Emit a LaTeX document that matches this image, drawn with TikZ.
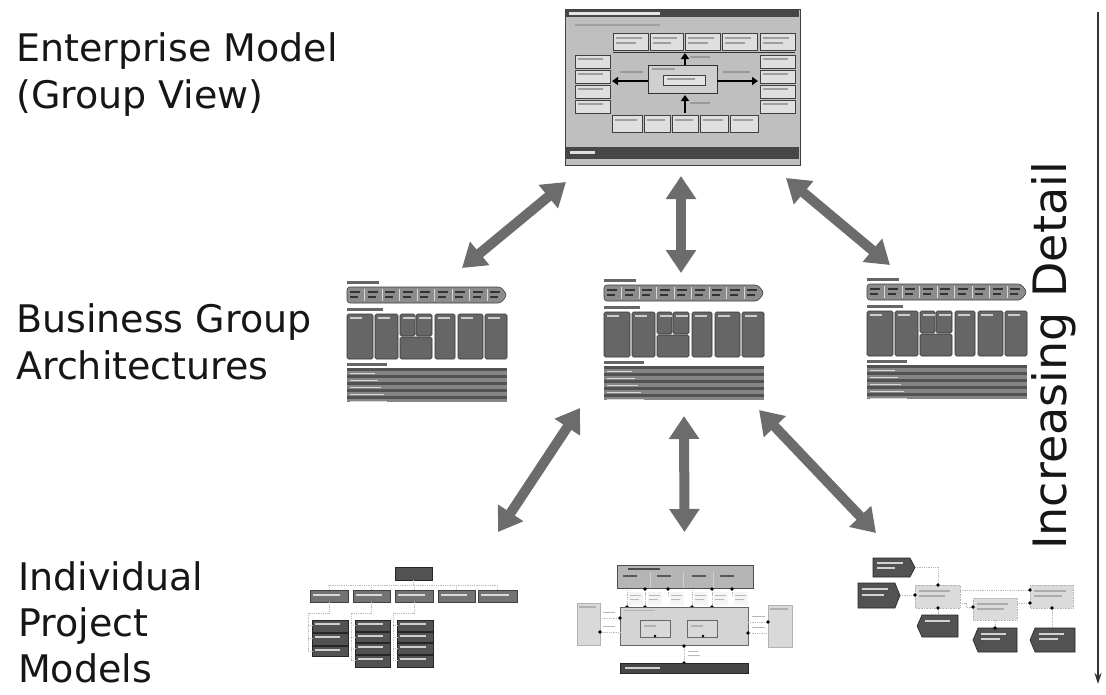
\documentclass[tikz,border=0pt]{standalone}
\usepackage{fontspec}
\setmainfont{DejaVu Sans}
\usetikzlibrary{arrows.meta,calc}
\definecolor{arrowgray}{RGB}{108,108,108}
\definecolor{ink}{RGB}{22,22,22}

% one business-group architecture sheet, drawn at the origin (160 x 122)
\newcommand{\bizsheet}{%
  \fill[black!60] (0,1) rectangle (32,4);
  \filldraw[fill=black!45, draw=black!75, line width=.6pt, rounded corners=3pt]
    (0,7) -- (154,7) -- (160,15) -- (154,23) -- (0,23) -- cycle;
  \foreach \i in {1,...,8} \draw[gray!30, line width=.6pt] (\i*17.5,9) -- (\i*17.5,21);
  \foreach \i in {0,...,8} {
    \fill[black!80] (\i*17.5+3,11) rectangle (\i*17.5+13,12.6);
    \fill[black!80] (\i*17.5+3,16) rectangle (\i*17.5+11,17.6);}
  \fill[black!60] (0,28) rectangle (36,31);
  \foreach \a/\b in {0/26,28/51,88/108,111/136,138/160}
    \filldraw[fill=black!60, draw=black!80, line width=.6pt, rounded corners=1.5pt] (\a,34) rectangle (\b,79);
  \filldraw[fill=black!60, draw=black!80, line width=.6pt, rounded corners=1.5pt] (53,34) rectangle (68,56);
  \filldraw[fill=black!60, draw=black!80, line width=.6pt, rounded corners=1.5pt] (69,34) rectangle (85,56);
  \filldraw[fill=black!60, draw=black!80, line width=.6pt, rounded corners=1.5pt] (53,57) rectangle (85,79);
  \foreach \a in {3,31,56,72,91,114,141} \fill[gray!40] (\a,37) rectangle (\a+12,38.5);
  \fill[black!60] (0,83) rectangle (40,86);
  \fill[black!48] (0,88) rectangle (160,122);
  \foreach \k in {0,...,4} {
    \fill[black!68] (0,88+\k*7) rectangle (160,90.5+\k*7);
    \fill[gray!30] (3,92.5+\k*7) rectangle (28+\k*3,93.8+\k*7);}
}

\begin{document}
\begin{tikzpicture}[x=1pt,y=-1pt,
  lbl/.style={anchor=base west, inner sep=0, font=\fontsize{38}{46}\selectfont, text=ink},
  frame/.style={inner sep=0, outer sep=0, anchor=north west},
  dbl/.style={draw=arrowgray, line width=10pt,
    {Triangle[width=29pt,length=23pt]}-{Triangle[width=29pt,length=23pt]}},
  lightbox/.style={fill=gray!25, draw=black!75, line width=.6pt},
  darkbox/.style={fill=black!68, draw=black!85, line width=.6pt},
  midbox/.style={fill=black!55, draw=black!75, line width=.6pt},
  blackarrow/.style={draw=black, line width=2.6pt, -{Triangle[width=8pt,length=6pt]}},
  link/.style={draw=gray!55, densely dotted, line width=.8pt},
  pin/.style={fill=black},
  ]
\fill[white] (0,0) rectangle (1106,694);
\useasboundingbox (0,0) rectangle (1106,694);

% ---------- level labels ----------
\node[lbl] (ent1) at (16,61)  {Enterprise Model};
\node[lbl] (ent2) at (16,108) {(Group View)};
\node[lbl] (biz1) at (16,332) {Business Group};
\node[lbl] (biz2) at (16,379) {Architectures};
\node[lbl] (prj1) at (18,590) {Individual};
\node[lbl] (prj2) at (18,636) {Project};
\node[lbl] (prj3) at (18,682) {Models};

% ---------- increasing detail ----------
\node[rotate=90, anchor=base, inner sep=0, font=\fontsize{46}{52}\selectfont, text=ink]
  (detail) at (1066,356) {Increasing Detail};
\coordinate (detTop) at (1098,12);
\coordinate (detBot) at (1098,684);
\draw[gray!40!black, line width=2pt, -{Stealth[length=11pt,width=7pt]}] (detTop) -- (detBot);

% ---------- frames of the views ----------
\node[frame, minimum width=235pt, minimum height=156pt] (ent) at (565,9) {};
\node[frame, minimum width=160pt, minimum height=122pt] (bizL) at (347,280) {};
\node[frame, minimum width=160pt, minimum height=122pt] (bizM) at (604,278) {};
\node[frame, minimum width=160pt, minimum height=122pt] (bizR) at (867,277) {};
\node[frame, minimum width=215pt, minimum height=103pt] (prjL) at (305,565) {};
\node[frame, minimum width=215pt, minimum height=108pt] (prjM) at (577,565) {};
\node[frame, minimum width=217pt, minimum height=94pt]  (prjR) at (858,558) {};

% ---------- enterprise slide ----------
\begin{scope}[shift={(ent.north west)}]
  \filldraw[fill=gray!50, draw=black!75, line width=1pt] (0,0) rectangle (235,156);
  \fill[black!72] (1,1) rectangle (234,8);
  \fill[gray!20] (4,3) rectangle (95,5.5);
  \fill[gray!75] (10,15) rectangle (95,17);
  \foreach \a/\b in {48/83,85/118,120/155,157/192,195/230}
    {\filldraw[lightbox] (\a,24) rectangle (\b,41);
     \fill[gray!75] (\a+3,28) rectangle (\b-6,30);
     \fill[gray!75] (\a+3,33) rectangle (\b-12,35);}
  \draw[black!80, line width=1pt] (48,43) -- (230,43);
  \foreach \y in {46,61,76,91}
    {\filldraw[lightbox] (10,\y) rectangle (45,\y+13);
     \fill[gray!75] (13,\y+3) rectangle (38,\y+5);
     \filldraw[lightbox] (195,\y) rectangle (230,\y+13);
     \fill[gray!75] (198,\y+3) rectangle (223,\y+5);}
  \filldraw[fill=gray!38, draw=black!80, line width=.8pt] (83,56) rectangle (152,84);
  \fill[gray!75] (87,59) rectangle (110,61);
  \filldraw[fill=gray!22, draw=black!75, line width=.8pt] (98,66) rectangle (140,76);
  \fill[gray!75] (102,69) rectangle (130,71);
  \draw[blackarrow] (120,56) -- (120,44);
  \draw[blackarrow] (120,104) -- (120,86);
  \draw[blackarrow] (83,72) -- (47,72);
  \draw[blackarrow] (152,72) -- (193,72);
  \fill[gray!80] (125,47) rectangle (145,49);
  \fill[gray!80] (125,93) rectangle (145,95);
  \fill[gray!80] (55,62) rectangle (78,64);
  \fill[gray!80] (158,62) rectangle (185,64);
  \foreach \a/\b in {47/77,79/105,107/133,135/163,165/193}
    {\filldraw[lightbox] (\a,106) rectangle (\b,123);
     \fill[gray!75] (\a+3,110) rectangle (\b-5,112);}
  \fill[black!72] (1,138) rectangle (234,150);
  \fill[gray!25] (5,142) rectangle (30,144.5);
\end{scope}

% ---------- business group sheets ----------
\begin{scope}[shift={(bizL.north west)}] \bizsheet \end{scope}
\begin{scope}[shift={(bizM.north west)}] \bizsheet \end{scope}
\begin{scope}[shift={(bizR.north west)}] \bizsheet \end{scope}

% ---------- project model: organisation tree ----------
\filldraw[darkbox] (395,567) rectangle (432,580);
\draw[link] (413,580) -- (413,585) (328,585) -- (498,585);
\foreach \a/\b in {310/348,353/390,395/433,438/475,478/517}
  {\draw[link] ({(\a+\b)/2},585) -- ({(\a+\b)/2},590);
   \filldraw[midbox] (\a,590) rectangle (\b,602);
   \fill[gray!30] (\a+3,594) rectangle (\b-8,595.5);}
\draw[link] (329,602) -- (329,613) -- (308,613) -- (308,651);
\draw[link] (371,602) -- (371,613) -- (351,613) -- (351,661);
\draw[link] (414,602) -- (414,613) -- (393,613) -- (393,661);
\foreach \y/\h in {620/12,633/12,646/10}
  {\filldraw[darkbox] (312,\y) rectangle (348,\y+\h); \draw[link] (308,\y+5) -- (312,\y+5);
   \fill[gray!38] (315,\y+3) rectangle (340,\y+4.5);}
\foreach \y/\h in {620/11,632/10,643/11,655/12}
  {\filldraw[darkbox] (355,\y) rectangle (390,\y+\h); \draw[link] (351,\y+5) -- (355,\y+5);
   \fill[gray!38] (358,\y+3) rectangle (383,\y+4.5);
   \filldraw[darkbox] (397,\y) rectangle (433,\y+\h); \draw[link] (393,\y+5) -- (397,\y+5);
   \fill[gray!38] (400,\y+3) rectangle (426,\y+4.5);}

% ---------- project model: component view ----------
\filldraw[fill=gray!58, draw=black!70, line width=.6pt] (617,565) rectangle (753,588);
\fill[black!70] (628,567.5) rectangle (660,569.5);
\foreach \x in {650,683,713} \draw[gray!35, line width=.6pt] (\x,572) -- (\x,588);
\foreach \x in {623,657,692,720} \fill[black!65] (\x,575) rectangle (\x+14,577);
\foreach \x in {627,645,692,712} \draw[link] (\x,590) -- (\x,607);
\foreach \x in {645,668,712,732} \draw[link] (\x,588) -- (\x,596);
\foreach \a in {629,648,670,694,714,734}
  {\fill[gray!8] (\a,592) rectangle (\a+14,605);
   \fill[gray!55] (\a+1,595) rectangle (\a+12,596.3);
   \fill[gray!55] (\a+1,599) rectangle (\a+10,600.3);}
\foreach \x in {645,668,712,732} \fill[pin] (\x,589) circle (1.8pt);
\foreach \x in {627,645,692,712} \fill[pin] (\x,607) circle (1.8pt);
\filldraw[fill=gray!34, draw=black!60, line width=.6pt] (620,607) rectangle (748,645);
\fill[gray!60] (624,609.5) rectangle (655,611);
\filldraw[fill=gray!30, draw=black!60, line width=.5pt] (640,620) rectangle (670,637);
\filldraw[fill=gray!30, draw=black!60, line width=.5pt] (687,620) rectangle (717,637);
\fill[gray!60] (644,625) rectangle (656,626.5);
\fill[gray!60] (691,625) rectangle (703,626.5);
\fill[pin] (655,636) circle (1.3pt);
\fill[pin] (703,636) circle (1.3pt);
\filldraw[fill=gray!30, draw=gray!60, line width=.6pt] (577,603) rectangle (600,645);
\filldraw[fill=gray!30, draw=gray!60, line width=.6pt] (768,605) rectangle (792,647);
\fill[gray!60] (579,606) rectangle (596,607.5);
\fill[gray!60] (770,608) rectangle (788,609.5);
\draw[link] (600,618) -- (620,618) (600,632) -- (620,632);
\draw[link] (748,622) -- (768,622) (748,633) -- (768,633);
\fill[gray!55] (603,612) rectangle (615,613.3);
\fill[gray!55] (603,626) rectangle (615,627.3);
\fill[gray!55] (752,616) rectangle (765,617.3);
\fill[gray!55] (752,627) rectangle (765,628.3);
\fill[pin] (620,618) circle (1.8pt);
\fill[pin] (600,632) circle (1.8pt);
\fill[pin] (768,622) circle (1.8pt);
\fill[pin] (748,633) circle (1.8pt);
\draw[link] (684,645) -- (684,663);
\fill[gray!55] (688,651) rectangle (698,652.3);
\fill[gray!55] (688,655) rectangle (700,656.3);
\fill[pin] (684,646) circle (1.8pt);
\fill[pin] (684,663) circle (1.8pt);
\filldraw[fill=black!72, draw=black!85, line width=.6pt] (620,663) rectangle (748,673);
\fill[gray!35] (625,667) rectangle (660,668.5);

% ---------- project model: process flow ----------
\draw[link] (915,567) -- (938,567) -- (938,585);
\draw[link] (900,595) -- (915,595);
\draw[link] (960,590) -- (1030,590);
\draw[link] (960,603) -- (966,603) -- (966,607) -- (973,607);
\draw[link] (1017,603) -- (1030,603);
\draw[link] (938,608) -- (938,615);
\draw[link] (995,620) -- (995,628);
\draw[link] (1052,608) -- (1052,628);
\filldraw[darkbox] (873,558) -- (910,558) -- (915,567.5) -- (910,577) -- (873,577) -- cycle;
\filldraw[darkbox] (858,583) -- (895,583) -- (900,595.5) -- (895,608) -- (858,608) -- cycle;
\filldraw[darkbox] (922,615) -- (958,615) -- (958,637) -- (922,637) -- (917,626) -- cycle;
\filldraw[darkbox] (978,628) -- (1017,628) -- (1017,652) -- (978,652) -- (973,640) -- cycle;
\filldraw[darkbox] (1035,628) -- (1075,628) -- (1075,652) -- (1035,652) -- (1030,640) -- cycle;
\fill[gray!35] (877,562) rectangle (903,563.5);
\fill[gray!35] (877,567) rectangle (895,568.5);
\fill[gray!35] (862,588) rectangle (888,589.5);
\fill[gray!35] (862,594) rectangle (884,595.5);
\fill[gray!35] (925,620) rectangle (950,621.5);
\fill[gray!35] (981,633) rectangle (1006,634.5);
\fill[gray!35] (981,638) rectangle (1000,639.5);
\fill[gray!35] (1039,633) rectangle (1064,634.5);
\fill[gray!35] (1039,638) rectangle (1058,639.5);
\filldraw[fill=gray!28, draw=gray!60, densely dotted, line width=.6pt] (915,585) rectangle (960,608);
\filldraw[fill=gray!28, draw=gray!60, densely dotted, line width=.6pt] (973,598) rectangle (1017,620);
\filldraw[fill=gray!28, draw=gray!60, densely dotted, line width=.6pt] (1030,585) rectangle (1073,608);
\fill[gray!65] (919,590) rectangle (950,591.5);
\fill[gray!65] (919,595) rectangle (945,596.5);
\fill[gray!65] (977,603) rectangle (1008,604.5);
\fill[gray!65] (977,608) rectangle (1004,609.5);
\fill[gray!65] (1034,590) rectangle (1066,591.5);
\fill[gray!65] (1034,595) rectangle (1062,596.5);
\foreach \p in {(938,585),(915,595),(1030,590),(973,607),(1030,603),(938,608),(995,628),(1052,608)}
  \fill[pin] \p circle (1.8pt);

% ---------- links between the levels ----------
\draw[dbl] ($(ent.south west)+(1,17)$)   -- ($(bizL.north east)+(-45,-12)$);
\draw[dbl] ($(ent.south)+(-1.5,11)$)     -- ($(bizM.north)+(-3,-5)$);
\draw[dbl] ($(ent.south east)+(-14,13)$) -- ($(bizR.north west)+(23,-12)$);
\draw[dbl] ($(bizM.south west)+(-24,8)$) -- ($(prjL.north east)+(-22,-33)$);
\draw[dbl] ($(bizM.south)+(0,16)$)       -- ($(prjM.north)+(0,-33)$);
\draw[dbl] ($(bizM.south east)+(-5,10)$) -- ($(prjR.north west)+(18,-25)$);
\end{tikzpicture}
\end{document}
